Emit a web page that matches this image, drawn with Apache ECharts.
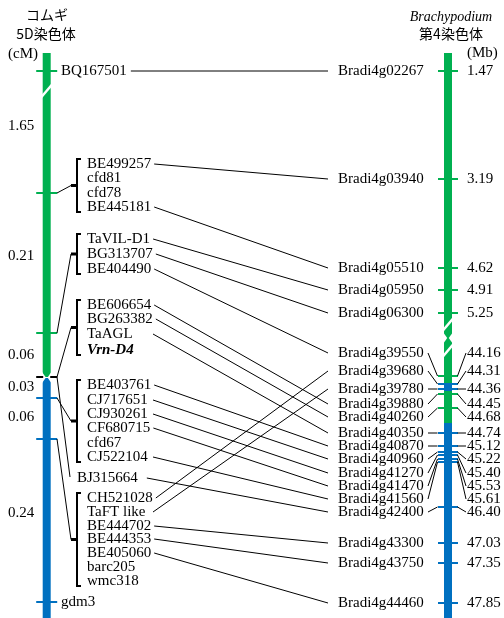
<!DOCTYPE html>
<html><head><meta charset="utf-8">
<script src="https://cdn.jsdelivr.net/npm/echarts@6/dist/echarts.min.js"></script>
<style>html,body{margin:0;padding:0;background:#fff}#c{width:504px;height:618px}</style>
</head><body><div id="c"></div>
<script>
// ---------- data ----------
const leftLabels = ['BQ167501','BE499257','cfd81','cfd78','BE445181','TaVIL-D1','BG313707','BE404490',
  'BE606654','BG263382','TaAGL','Vrn-D4','BE403761','CJ717651','CJ930261','CF680715','cfd67','CJ522104',
  'BJ315664','CH521028','TaFT like','BE444702','BE444353','BE405060','barc205','wmc318','gdm3'];
const leftLabelY = [71,164,178,193,207,239,254,269,305,319,334,350,385,400,414,428,443,457,
  478,498,512,526,539,553,567,581,602];
// groups: [first label index, last label index, chromosome tick position]
const leftGroups = [[1,4,193],[5,7,333],[8,11,377],[12,17,398],[19,25,439]];
const leftSingleLinks = [[18,377]];
const leftTickY = [71,193,333,377,398,439,602];
const leftTickCol = ['g','g','g','k','b','b','b'];
const leftSegs = [[53,377,'g'],[378,618,'b']];
const intervalText = ['1.65','0.21','0.06','0.03','0.06','0.24'];
const intervalY = [126,256,355,387,417,513];

const rightNames = ['Bradi4g02267','Bradi4g03940','Bradi4g05510','Bradi4g05950','Bradi4g06300','Bradi4g39550',
  'Bradi4g39680','Bradi4g39780','Bradi4g39880','Bradi4g40260','Bradi4g40350','Bradi4g40870','Bradi4g40960',
  'Bradi4g41270','Bradi4g41470','Bradi4g41560','Bradi4g42400','Bradi4g43300','Bradi4g43750','Bradi4g44460'];
const rightMb = ['1.47','3.19','4.62','4.91','5.25','44.16','44.31','44.36','44.45','44.68','44.74','45.12',
  '45.22','45.40','45.53','45.61','46.40','47.03','47.35','47.85'];
const rightLabelY = [71,179,268,290,313,353,371,389,404,417,433,446,459,473,486,499,512,543,563,603];
const rightTickY  = [71,179,268,290,313,376,384,389,394,408,433,446,452,455,459,462,507,543,563,603];
const rightCol = ['g','g','g','g','g','g','b','b','g','g','b','b','b','b','b','b','b','b','b','b'];
const rightSegs = [[53,383,'g'],[383,391,'b'],[391,423,'g'],[423,618,'b']];
// [left label index, right marker index]
const links = [[0,0],[1,1],[4,2],[5,3],[6,4],[7,5],[8,8],[9,9],[10,10],[12,11],[13,12],[14,13],[15,14],
  [17,15],[18,16],[19,6],[20,7],[21,17],[22,18],[23,19]];

// ---------- styling / layout ----------
const COL = {g:'#00b050', b:'#0070c0', k:'#000000', w:'#ffffff'};
const LX = 46.7, LW = 8, RX = 448, RW = 8;
const SERIF = "'Liberation Serif','Times New Roman',serif";
const CJK = "'Noto Sans CJK JP','Noto Sans',sans-serif";
const F15 = '15px ' + SERIF;
const ctx = document.createElement('canvas').getContext('2d');
function tw(t, font){ ctx.font = font; return ctx.measureText(t).width; }
function labelX(i){ return (i===0||i===26) ? 61 : (i===18 ? 77 : 87); }
function labelFont(i){ return leftLabels[i]==='Vrn-D4' ? 'italic bold 15px ' + SERIF : F15; }

// bars
const barData = leftSegs.map(s=>[LX, s[0], s[1], LW, s[2]]).concat(rightSegs.map(s=>[RX, s[0], s[1], RW, s[2]]));
// white notches (polygons relative to bar centre) [cx, cy, side]
const notchData = [[LX,377.5,-1],[LX,377.5,1],[RX,338,-1],[RX,338,1]];
// ticks
const tickData = leftTickY.map((y,i)=>[LX, y, 21, leftTickCol[i]]).concat(rightTickY.map((y,i)=>[RX, y, 20, rightCol[i]]));
// segments [x1,y1,x2,y2,width,color]
const segData = [];
links.forEach(([li, ri])=>{
  const x0 = labelX(li) + tw(leftLabels[li], labelFont(li));
  const xs = li===0 ? x0 + 4 : (li===18 ? x0 + 9 : Math.max(x0 + 3, 153));
  segData.push([xs, leftLabelY[li], 328, rightLabelY[ri], 1, 'k']);
});
leftGroups.forEach(([a,b,t])=>{
  const top = leftLabelY[a]-5, bot = leftLabelY[b]+5, mid = (top+bot)/2;
  segData.push([77, top, 77, bot, 2, 'k']);
  segData.push([76, top, 81, top, 2, 'k']);
  segData.push([76, bot, 81, bot, 2, 'k']);
  segData.push([71, mid, 77.5, mid, 3, 'k']);
  segData.push([71, mid, 57, t, 1, 'k']);
});
leftSingleLinks.forEach(([li,t])=>{ segData.push([70, leftLabelY[li]-1, 57, t, 1, 'k']); });
rightTickY.forEach((ty,i)=>{
  if (i>=5 && i<=16) {
    segData.push([428, rightLabelY[i], 437.5, ty, 1, 'k']);
    segData.push([457.5, ty, 466, rightLabelY[i], 1, 'k']);
  }
});
// chromosome break marks
segData.push([41, 97.5, 52.5, 84, 2.5, 'w']);
segData.push([442.5, 331, 453.5, 318, 2.5, 'w']);
segData.push([442.5, 357, 453.5, 344, 2.5, 'w']);

// texts [x,y, text, font, align]
const textData = [];
leftLabels.forEach((t,i)=>textData.push([labelX(i), leftLabelY[i], t, labelFont(i), 'left']));
intervalText.forEach((t,i)=>textData.push([8, intervalY[i], t, F15, 'left']));
rightNames.forEach((t,i)=>textData.push([338, rightLabelY[i], t, F15, 'left']));
rightMb.forEach((t,i)=>textData.push([467, rightLabelY[i], t, F15, 'left']));
textData.push([47, 15, 'コムギ', '14px ' + CJK, 'center']);
textData.push([46, 34, '5D染色体', '14px ' + CJK, 'center']);
textData.push([8, 54, '(cM)', F15, 'left']);
textData.push([451, 17, 'Brachypodium', 'italic 14px ' + SERIF, 'center']);
textData.push([451, 34, '第4染色体', '14px ' + CJK, 'center']);
textData.push([467, 53, '(Mb)', F15, 'left']);

const chart = echarts.init(document.getElementById('c'), null, {renderer:'canvas'});
chart.setOption({
  animation: false,
  backgroundColor: '#fff',
  grid: {left:0, right:0, top:0, bottom:0},
  xAxis: {type:'value', min:0, max:504, show:false},
  yAxis: {type:'value', min:0, max:618, inverse:true, show:false},
  series: [
    { type:'custom', data: barData.map(d=>d.slice(0,3)), renderItem(params, api){
        const d = barData[params.dataIndex];
        const p0 = api.coord([d[0]-d[3]/2, d[1]]), p1 = api.coord([d[0]+d[3]/2, d[2]]);
        return {type:'rect', shape:{x:p0[0], y:p0[1], width:p1[0]-p0[0], height:p1[1]-p0[1]}, style:{fill:COL[d[4]]}};
    }},
    { type:'custom', data: notchData.map(d=>d.slice(0,2)), renderItem(params, api){
        const d = notchData[params.dataIndex];
        const s = d[2], edge = d[0] + s*5, tip = d[0] + s*0.8;
        const pts = [[edge, d[1]-6],[tip, d[1]],[edge, d[1]+6]].map(p=>api.coord(p));
        return {type:'polygon', shape:{points:pts}, style:{fill:'#fff'}};
    }},
    { type:'custom', data: tickData.map(d=>d.slice(0,2)), renderItem(params, api){
        const d = tickData[params.dataIndex];
        const st = {stroke:COL[d[3]], lineWidth:2};
        if (d[3]==='k') {
          const a0 = api.coord([d[0]-d[2]/2, d[1]]), a1 = api.coord([d[0]-3.5, d[1]]);
          const b0 = api.coord([d[0]+3.5, d[1]]), b1 = api.coord([d[0]+d[2]/2, d[1]]);
          return {type:'group', children:[
            {type:'line', shape:{x1:a0[0], y1:a0[1], x2:a1[0], y2:a1[1]}, style:st},
            {type:'line', shape:{x1:b0[0], y1:b0[1], x2:b1[0], y2:b1[1]}, style:st}]};
        }
        const p0 = api.coord([d[0]-d[2]/2, d[1]]), p1 = api.coord([d[0]+d[2]/2, d[1]]);
        return {type:'line', shape:{x1:p0[0], y1:p0[1], x2:p1[0], y2:p1[1]}, style:st};
    }},
    { type:'custom', data: segData.map(d=>d.slice(0,4)), renderItem(params, api){
        const d = segData[params.dataIndex];
        const p0 = api.coord([d[0], d[1]]), p1 = api.coord([d[2], d[3]]);
        return {type:'line', shape:{x1:p0[0], y1:p0[1], x2:p1[0], y2:p1[1]}, style:{stroke:COL[d[5]], lineWidth:d[4]}};
    }},
    { type:'custom', data: textData.map(d=>d.slice(0,2)), renderItem(params, api){
        const d = textData[params.dataIndex];
        const p = api.coord([d[0], d[1]]);
        return {type:'text', x:p[0], y:p[1], style:{text:d[2], font:d[3], fill:'#000', align:d[4], verticalAlign:'middle'}};
    }}
  ]
});
</script></body></html>
